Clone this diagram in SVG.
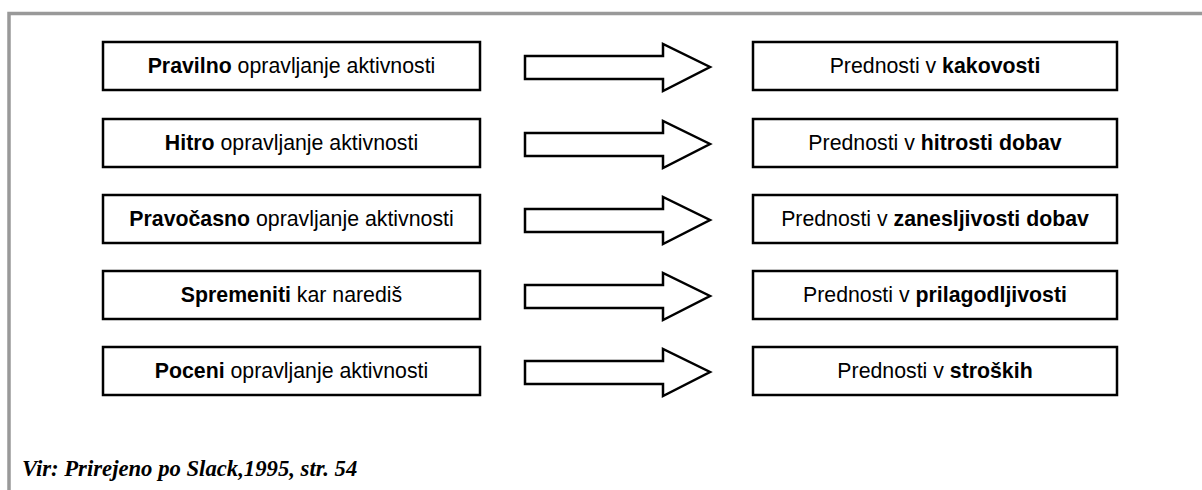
<svg xmlns="http://www.w3.org/2000/svg" width="1202" height="490" viewBox="0 0 1202 490">
<style>
.box{fill:#fff;stroke:#000;stroke-width:2.5}
.arr{fill:#fff;stroke:#000;stroke-width:2.5;stroke-linejoin:miter}
.t{font-family:"Liberation Sans",Arial,sans-serif;font-size:21.3px;fill:#000;text-anchor:middle}
.b{font-weight:bold}
.frame{fill:none;stroke:#999;stroke-width:3.5}
.cap{font-family:"Liberation Serif","Times New Roman",serif;font-size:22.7px;font-weight:bold;font-style:italic;fill:#000}
</style>
<rect width="1202" height="490" fill="#fff"/>
<g id="frame"><path class="frame" d="M9,490 V13.5 H1202"/></g>
<g id="connectors">
<path class="arr" d="M525,56 H663 V44 L710,67 L663,91 V79 H525 Z"/>
<path class="arr" d="M525,133 H663 V121 L710,144 L663,168 V156 H525 Z"/>
<path class="arr" d="M525,209 H663 V197 L710,220 L663,244 V232 H525 Z"/>
<path class="arr" d="M525,285 H663 V273 L710,296 L663,320 V308 H525 Z"/>
<path class="arr" d="M525,361 H663 V349 L710,372 L663,396 V384 H525 Z"/>
</g>
<g id="l1"><rect class="box" x="103" y="42" width="377" height="48"/><text class="t" x="291.5" y="73"><tspan class="b">Pravilno</tspan> opravljanje aktivnosti</text></g>
<g id="l2"><rect class="box" x="103" y="119" width="377" height="48"/><text class="t" x="291.5" y="150"><tspan class="b">Hitro</tspan> opravljanje aktivnosti</text></g>
<g id="l3"><rect class="box" x="103" y="195" width="377" height="48"/><text class="t" x="291.5" y="226"><tspan class="b">Pravočasno</tspan> opravljanje aktivnosti</text></g>
<g id="l4"><rect class="box" x="103" y="271" width="377" height="48"/><text class="t" x="291.5" y="302"><tspan class="b">Spremeniti</tspan> kar narediš</text></g>
<g id="l5"><rect class="box" x="103" y="347" width="377" height="48"/><text class="t" x="291.5" y="378"><tspan class="b">Poceni</tspan> opravljanje aktivnosti</text></g>
<g id="r1"><rect class="box" x="753" y="42" width="364" height="48"/><text class="t" x="935" y="73">Prednosti v <tspan class="b">kakovosti</tspan></text></g>
<g id="r2"><rect class="box" x="753" y="119" width="364" height="48"/><text class="t" x="935" y="150">Prednosti v <tspan class="b">hitrosti dobav</tspan></text></g>
<g id="r3"><rect class="box" x="753" y="195" width="364" height="48"/><text class="t" x="935" y="226">Prednosti v <tspan class="b">zanesljivosti dobav</tspan></text></g>
<g id="r4"><rect class="box" x="753" y="271" width="364" height="48"/><text class="t" x="935" y="302">Prednosti v <tspan class="b">prilagodljivosti</tspan></text></g>
<g id="r5"><rect class="box" x="753" y="347" width="364" height="48"/><text class="t" x="935" y="378">Prednosti v <tspan class="b">stroških</tspan></text></g>
<text class="cap" x="22" y="476">Vir: Prirejeno po Slack,1995, str. 54</text>
</svg>
